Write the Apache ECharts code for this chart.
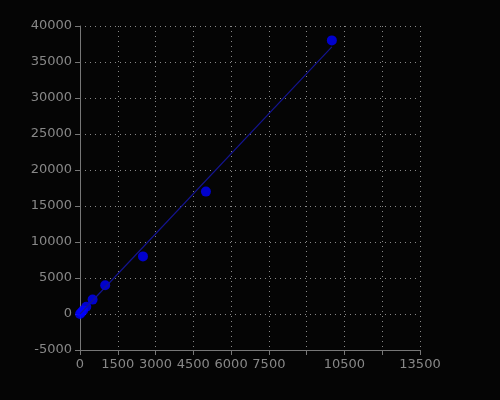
<!DOCTYPE html>
<html><head><meta charset="utf-8">
<script src="https://cdn.jsdelivr.net/npm/echarts@6/dist/echarts.min.js"></script>
<style>html,body{margin:0;background:#050505;}#c{width:500px;height:400px;}</style>
</head><body><div id="c"></div>
<script>
var conc = [0, 50, 125, 250, 500, 1000, 2500, 5000, 10000];
var signal = [0, 200, 500, 1000, 2000, 4000, 8000, 17000, 38000];
var fitX = [0, 10000];
var fitY = [0, 37100];
var hiddenX = [9000, 12000];

var myChart = echarts.init(document.getElementById("c"));
var axisCommon = {
    axisLine: {show: true, onZero: false, lineStyle: {color: '#777'}},
    axisTick: {show: true, lineStyle: {color: '#777'}},
    axisLabel: {color: '#888', fontSize: 13, fontFamily: 'DejaVu Sans'},
    splitLine: {show: true, lineStyle: {color: '#888', type: [1, 4]}}
};
var option = {
    backgroundColor: '#050505',
    animation: false,
    grid: {left: 80, right: 80, top: 26, bottom: 50},
    xAxis: Object.assign({}, axisCommon, {
        type: 'value', min: 0, max: 13500, interval: 1500,
        axisLabel: Object.assign({}, axisCommon.axisLabel, {
            formatter: function (v) { return hiddenX.indexOf(v) >= 0 ? '' : String(v); }
        })
    }),
    yAxis: Object.assign({}, axisCommon, {
        type: 'value', min: -5000, max: 40000, interval: 5000,
        axisLabel: Object.assign({}, axisCommon.axisLabel, {
            formatter: function (v) { return String(v); }
        })
    }),
    series: [{
        type: 'line',
        data: fitX.map(function (x, i) { return [x, fitY[i]]; }),
        showSymbol: false,
        lineStyle: {color: '#141490', width: 1.2}
    }, {
        type: 'scatter',
        data: conc.map(function (x, i) { return [x, signal[i]]; }),
        symbolSize: 10,
        itemStyle: {color: '#0000ff'}
    }]
};
myChart.setOption(option);
</script></body></html>
